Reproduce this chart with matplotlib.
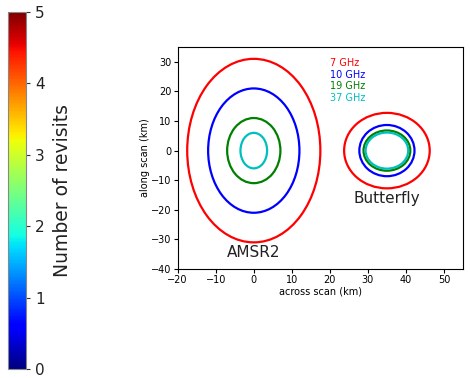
import matplotlib
matplotlib.use("Agg")
import matplotlib.pyplot as plt
from matplotlib.patches import Ellipse
import matplotlib as mpl

freqs = ["7 GHz", "10 GHz", "19 GHz", "37 GHz"]
colors = ["r", "b", "g", "c"]
amsr2_center = (0, 0)
amsr2_width = [35, 24, 14, 7]
amsr2_height = [62, 42, 22, 12]
bfly_center = (35, 0)
bfly_width = [22.5, 14.5, 12.3, 11.2]
bfly_height = [25.5, 17.3, 13.6, 12.2]
cbar_ticks = [0, 1, 2, 3, 4, 5]

fig = plt.figure(figsize=(4.71, 3.78), dpi=100)

# colorbar
cax = fig.add_axes([8/471, 1-369/378, 18/471, 357/378])
norm = mpl.colors.Normalize(vmin=0, vmax=5)
cb = mpl.colorbar.ColorbarBase(cax, cmap=plt.get_cmap("jet"), norm=norm, orientation="vertical")
cb.set_ticks(cbar_ticks)
cb.ax.tick_params(labelsize=11, colors="#333333", length=3)
for t in cb.ax.get_yticklabels():
    t.set_color("#222222")
cb.set_label("Number of revisits", fontsize=13.5, color="#222222", labelpad=6)
cb.outline.set_edgecolor("#888888")

ax = fig.add_axes([177.7/471, 1-269/378, (463-177.7)/471, (269-47)/378])
for w, h, c in zip(amsr2_width, amsr2_height, colors):
    ax.add_patch(Ellipse(amsr2_center, w, h, fill=False, edgecolor=c, lw=1.6))
for w, h, c in zip(bfly_width, bfly_height, colors):
    ax.add_patch(Ellipse(bfly_center, w, h, fill=False, edgecolor=c, lw=1.6))

ax.set_xlim(-20, 55)
ax.set_ylim(-40, 35)
ax.set_xticks(range(-20, 51, 10))
ax.set_yticks(range(-40, 31, 10))
ax.tick_params(labelsize=7, length=3, pad=1.5)
ax.set_xlabel("across scan (km)", fontsize=7, labelpad=1)
ax.set_ylabel("along scan (km)", fontsize=7, labelpad=1)

for i, (f, c) in enumerate(zip(freqs, colors)):
    ax.text(20, 29.5 - 3.9 * i, f, color=c, fontsize=7, va="center", ha="left")

ax.text(-7.2, -36, "AMSR2", fontsize=11, color="#222222", ha="left", va="baseline")
ax.text(26.2, -17.6, "Butterfly", fontsize=11, color="#222222", ha="left", va="baseline")

fig.savefig("out.png", dpi=100)
